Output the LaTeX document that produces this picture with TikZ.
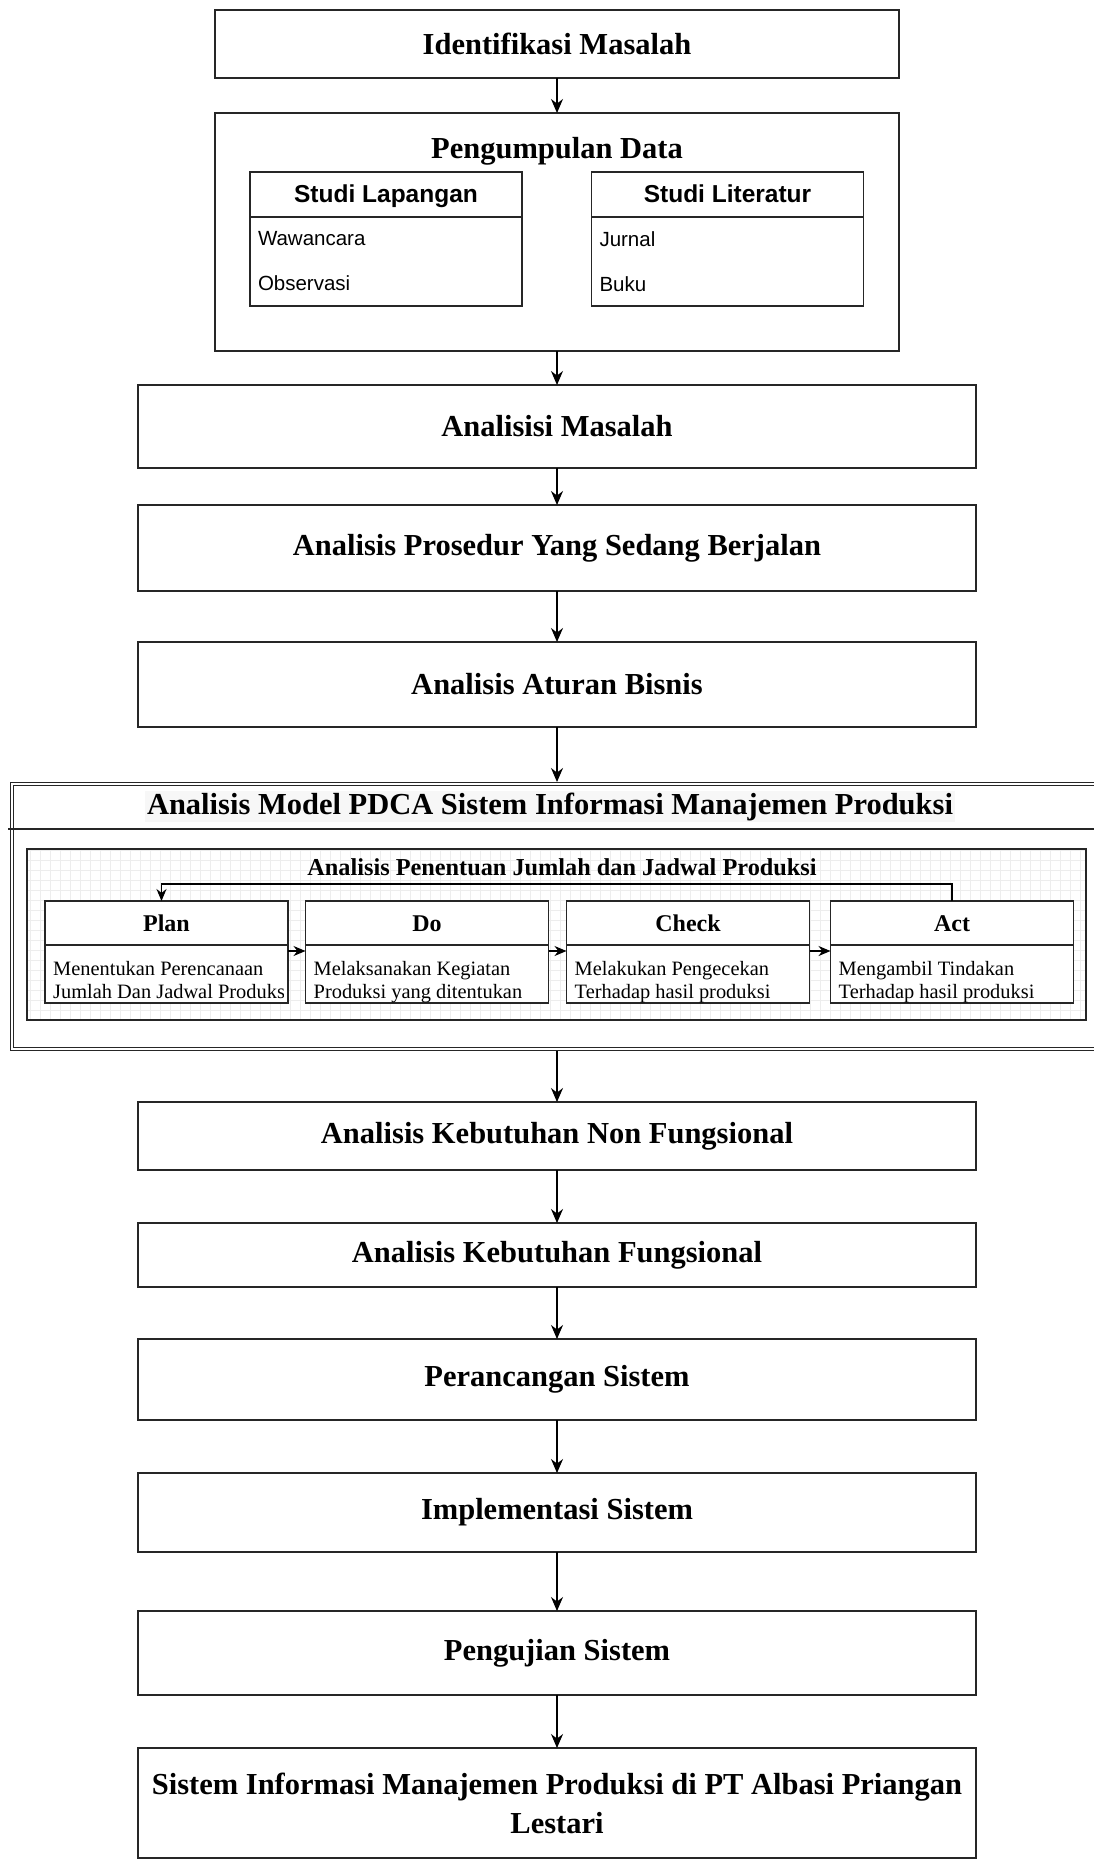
\documentclass[tikz,border=0pt]{standalone}
\usepackage{fontspec}
\setmainfont{Liberation Serif}
\setsansfont{Liberation Sans}
\usetikzlibrary{positioning,arrows.meta}

\begin{document}
\begin{tikzpicture}[
  x=1pt, y=-1pt,
  >={Stealth[length=14pt,width=12pt]},
  stepbox/.style={rectangle, draw=black!85, line width=1.5pt, fill=white, minimum width=838pt, inner sep=0pt, outer sep=0pt, align=center, font=\fontsize{30.5}{39}\selectfont\bfseries},
  boxtitle/.style={inner sep=0pt, font=\fontsize{30.5}{39}\selectfont\bfseries},
  studyhead/.style={rectangle, draw=black!85, line width=1.4pt, fill=white, minimum width=272pt, minimum height=45pt, inner sep=0pt, outer sep=0pt, text height=18pt, text depth=3pt, font=\fontsize{24.5}{29}\selectfont\sffamily\bfseries},
  studybody/.style={rectangle, draw=black!85, line width=1.4pt, fill=white, text width=256pt, minimum height=89pt, inner xsep=8pt, inner ysep=0pt, outer sep=0pt, align=left, font=\fontsize{20.5}{45}\selectfont\sffamily},
  pdcahead/.style={rectangle, draw=black!85, line width=1.4pt, fill=white, minimum width=243pt, minimum height=44pt, inner sep=0pt, outer sep=0pt, text height=19pt, text depth=2pt, font=\fontsize{24}{29}\selectfont\bfseries},
  pdcabody/.style={rectangle, draw=black!85, line width=1.4pt, fill=white, minimum width=243pt, minimum height=58pt, inner sep=0pt, outer sep=0pt},
  pdcatext/.style={inner sep=0pt, align=left, font=\fontsize{20.4}{23}\selectfont},
  flow/.style={->, line width=1.3pt, draw=black},
  cycleflow/.style={-{Stealth[length=12pt,width=10pt]}, line width=1.3pt, draw=black}
]
\useasboundingbox (0,0) rectangle (1094,1861);

% top of the chain
\node[stepbox, minimum width=684pt, minimum height=68pt] (ident) at (557,44) {Identifikasi Masalah};
\node[stepbox, minimum width=684pt, minimum height=238pt, below=35pt of ident] (collect) {};
\node[boxtitle] (collecttitle) at ([yshift=-38pt]collect.north) {Pengumpulan Data};

\node[studyhead] (fieldhead) at (386,194.5) {Studi Lapangan};
\node[studybody, below=0pt of fieldhead] (fieldbody) {Wawancara\\Observasi};
\node[studyhead] (litehead) at (727.5,194.5) {Studi Literatur};
\node[studybody, below=0pt of litehead] (litebody) {Jurnal\\Buku};

\node[stepbox, minimum height=83pt, below=34pt of collect] (problem) {Analisisi Masalah};
\node[stepbox, minimum height=86pt, below=37pt of problem] (procedure) {Analisis Prosedur Yang Sedang Berjalan};
\node[stepbox, minimum height=85pt, below=51pt of procedure] (rules) {Analisis Aturan Bisnis};

% PDCA block
\coordinate (pdcain) at (557,782);
\coordinate (pdcaout) at (557,1051);
\draw[draw=black!85, double, double distance=2.4pt, line width=1.2pt] (12,784) rectangle (1110,1049);
\draw[draw=black!85, line width=1.4pt] (8,829) -- (1100,829);
\node[boxtitle, fill=gray!6, inner sep=2pt] (pdcatitle) at (550,806.5) {Analisis Model PDCA Sistem Informasi Manajemen Produksi};

\fill[white] (27,849) rectangle (1086,1020);
\draw[step=10pt, gray!14, line width=0.4pt] (27,849) grid (1086,1020);
\node[draw=black!85, line width=1.4pt, minimum width=1059pt, minimum height=171pt, inner sep=0pt] (cycle) at (556.5,934.5) {};
\node[inner sep=0pt, font=\fontsize{24.3}{29}\selectfont\bfseries] (cycletitle) at (562,867) {Analisis Penentuan Jumlah dan Jadwal Produksi};

\node[pdcahead] (planhead) at (166.5,923) {Plan};
\node[pdcabody, below=0pt of planhead] (planbody) {};
\begin{scope}
  \clip (planbody.north west) rectangle ([xshift=-5pt]planbody.south east);
  \node[pdcatext, anchor=north west] (plantext) at ([xshift=8pt,yshift=-16pt]planbody.north west) {Menentukan Perencanaan\\Jumlah Dan Jadwal Produksi};
\end{scope}

\node[pdcahead] (dohead) at (427,923) {Do};
\node[pdcabody, below=0pt of dohead] (dobody) {};
\node[pdcatext, anchor=north west] (dotext) at ([xshift=8pt,yshift=-16pt]dobody.north west) {Melaksanakan Kegiatan\\Produksi yang ditentukan};

\node[pdcahead] (checkhead) at (688,923) {Check};
\node[pdcabody, below=0pt of checkhead] (checkbody) {};
\node[pdcatext, anchor=north west] (checktext) at ([xshift=8pt,yshift=-16pt]checkbody.north west) {Melakukan Pengecekan\\Terhadap hasil produksi};

\node[pdcahead] (acthead) at (952,923) {Act};
\node[pdcabody, below=0pt of acthead] (actbody) {};
\node[pdcatext, anchor=north west] (acttext) at ([xshift=8pt,yshift=-16pt]actbody.north west) {Mengambil Tindakan\\Terhadap hasil produksi};

\draw[cycleflow] ([yshift=-6pt]planbody.north east) -- ([yshift=-6pt]dobody.north west);
\draw[cycleflow] ([yshift=-6pt]dobody.north east) -- ([yshift=-6pt]checkbody.north west);
\draw[cycleflow] ([yshift=-6pt]checkbody.north east) -- ([yshift=-6pt]actbody.north west);
\draw[cycleflow] (acthead.north) -- ++(0,-17) -| ([xshift=-5pt]planhead.north);

% rest of the chain
\node[stepbox, minimum height=68pt, below=51pt of pdcaout] (nonfunc) {Analisis Kebutuhan Non Fungsional};
\node[stepbox, minimum height=64pt, below=53pt of nonfunc] (func) {Analisis Kebutuhan Fungsional};
\node[stepbox, minimum height=81pt, below=52pt of func] (design) {Perancangan Sistem};
\node[stepbox, minimum height=79pt, below=53pt of design] (implement) {Implementasi Sistem};
\node[stepbox, minimum height=84pt, below=59pt of implement] (testing) {Pengujian Sistem};
\node[stepbox, minimum height=110pt, below=53pt of testing] (result) {Sistem Informasi Manajemen Produksi di PT Albasi Priangan\\Lestari};

\draw[flow] (ident) -- (collect);
\draw[flow] (collect) -- (problem);
\draw[flow] (problem) -- (procedure);
\draw[flow] (procedure) -- (rules);
\draw[flow] (rules) -- (pdcain);
\draw[flow] (pdcaout) -- (nonfunc);
\draw[flow] (nonfunc) -- (func);
\draw[flow] (func) -- (design);
\draw[flow] (design) -- (implement);
\draw[flow] (implement) -- (testing);
\draw[flow] (testing) -- (result);
\end{tikzpicture}
\end{document}
